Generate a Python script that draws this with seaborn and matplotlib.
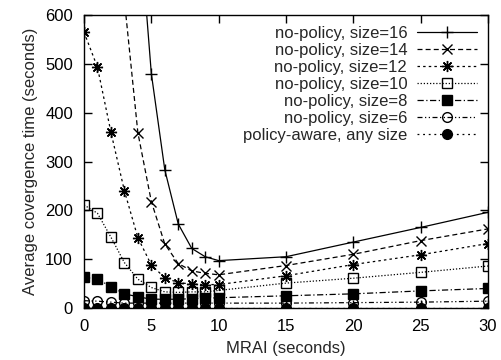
import matplotlib
matplotlib.use("Agg")
import matplotlib.pyplot as plt
import seaborn as sns
import numpy as np

mrai = [0, 1, 2, 3, 4, 5, 6, 7, 8, 9, 10, 15, 20, 25, 30]
size16 = [2400, 2000, 1500, 1100, 830, 480, 283, 172, 122, 105, 97, 105, 135, 165, 196]
size14 = [1600, 1200, 900, 630, 359, 218, 131, 91, 76, 71, 68, 87, 110, 138, 162]
size12 = [565, 493, 360, 240, 144, 88, 62, 52, 49, 48, 48, 66, 89, 109, 132]
size10 = [211, 194, 145, 93, 59, 42, 33, 32, 33, 33, 36, 51, 61, 73, 86]
size8 = [63, 59, 44, 29, 23, 18, 18, 18, 19, 20, 21, 25, 29, 35, 40]
size6 = [15, 14, 12, 10, 10, 10, 10, 10, 10, 10, 10, 10, 11, 12, 14]
policy_aware = [1, 1, 1, 1, 1, 1, 1, 1, 1, 1, 1, 1, 1, 1, 1]

labels = ["no-policy, size=16", "no-policy, size=14", "no-policy, size=12",
          "no-policy, size=10", "no-policy, size=8", "no-policy, size=6",
          "policy-aware, any size"]
xticks = [0, 5, 10, 15, 20, 25, 30]
yticks = [0, 100, 200, 300, 400, 500, 600]

sns.set_theme(style="ticks")
plt.rcParams['font.family'] = ['Liberation Sans', 'DejaVu Sans']

fig = plt.figure(figsize=(5.01, 3.60), dpi=100)
ax = fig.add_axes([84/501, 1-308/360, (488-84)/501, (308-15)/360])

series = [size16, size14, size12, size10, size8, size6, policy_aware]
markers = ['+', 'x', (8, 2, 0), 's', 's', 'o', 'o']
filled = [True, True, True, False, True, False, True]
styles = ['-', (0, (4, 2.5)), (0, (2, 2.5)), (0, (1, 1.5)), (0, (5, 2, 1, 2)),
          (0, (4, 2, 1, 2, 1, 2)), (0, (1.5, 3))]
msizes = [9, 7, 8, 7, 7, 7, 7]

for ys, lab, m, f, ls, ms in zip(series, labels, markers, filled, styles, msizes):
    sns.lineplot(x=mrai, y=ys, ax=ax, color='black', linewidth=0.9,
                 linestyle=ls, marker=m, markersize=ms,
                 markerfacecolor=('black' if f else 'none'),
                 markeredgecolor='black', markeredgewidth=1.0,
                 label=lab, clip_on=True)

ax.set_xlim(0, 30)
ax.set_ylim(0, 600)
ax.set_xticks(xticks)
ax.set_yticks(yticks)
ax.tick_params(direction='in', length=6, width=1, top=True, right=True,
               labelsize=12, pad=8, colors='black')
for s in ax.spines.values():
    s.set_linewidth(1.0)
    s.set_color('black')
ax.set_xlabel("MRAI (seconds)", fontsize=12, labelpad=5)
ax.set_ylabel("Average covergence time (seconds)", fontsize=12, labelpad=5)

leg = ax.legend(loc='upper right', markerfirst=False, frameon=False,
                fontsize=12, handlelength=3.6, labelspacing=0.12,
                borderaxespad=0.25, handletextpad=0.6)

fig.savefig("out.png", dpi=100)
